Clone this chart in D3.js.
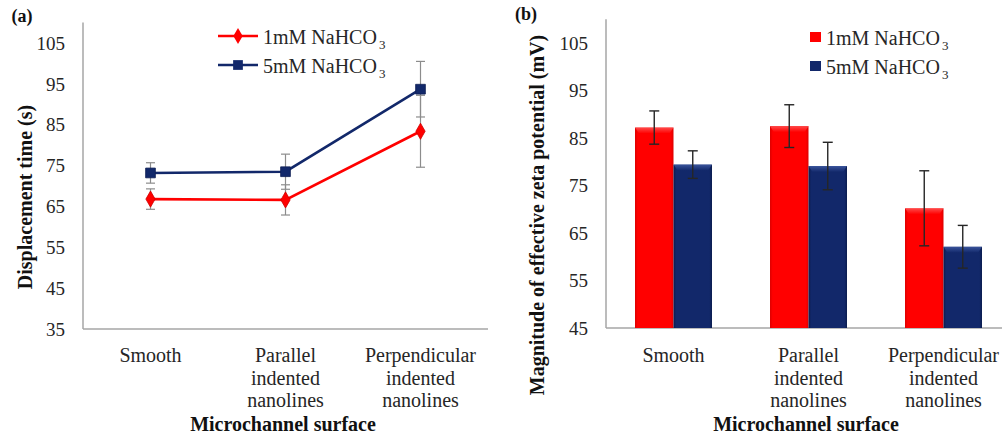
<!DOCTYPE html>
<html>
<head>
<meta charset="utf-8">
<script src="https://cdn.jsdelivr.net/npm/d3@7"></script>
<style>
  body { margin: 0; background: #fff; }
  .tick-label { font-size: 19px; fill: #262626; }
  .cat-label { font-size: 20px; fill: #262626; }
  .title { font-size: 20px; font-weight: bold; fill: #111; }
</style>
</head>
<body>
<svg id="chart" width="1002" height="441"></svg>
<script>
// categories and series
var categories = [
  ["Smooth"],
  ["Parallel", "indented", "nanolines"],
  ["Perpendicular", "indented", "nanolines"]
];
var seriesNames = ["1mM NaHCO", "5mM NaHCO"];

// (a) displacement time (s)
var time1mM = [66.8, 66.6, 83.4];
var time1mMErr = [2.5, 3.7, 8.8];
var time5mM = [73.2, 73.5, 93.7];
var time5mMErr = [2.5, 4.3, 6.8];
var ticksA = [35, 45, 55, 65, 75, 85, 95, 105];

// (b) effective zeta potential (mV)
var zeta1mM = [87.2, 87.5, 70.2];
var zeta1mMErr = [3.5, 4.5, 7.9];
var zeta5mM = [79.4, 79.1, 62.1];
var zeta5mMErr = [2.9, 5.0, 4.5];
var ticksB = [45, 55, 65, 75, 85, 95, 105];

var red = "#ff0000", navy = "#12286a";
var FONT = "'Liberation Serif', 'Times New Roman', serif";
var svg = d3.select("#chart").style("font-family", FONT);
var catKeys = categories.map(function (c) { return c[0]; });

// gradients for the bevelled bars
var defs = svg.append("defs");
function sideGrad(id, edge, mid) {
  var g = defs.append("linearGradient").attr("id", id).attr("x1", 0).attr("x2", 1).attr("y1", 0).attr("y2", 0);
  g.append("stop").attr("offset", "0%").attr("stop-color", edge);
  g.append("stop").attr("offset", "7%").attr("stop-color", mid);
  g.append("stop").attr("offset", "93%").attr("stop-color", mid);
  g.append("stop").attr("offset", "100%").attr("stop-color", edge);
}
sideGrad("gRed", "#dd0000", red);
sideGrad("gNavy", "#0b1c4e", navy);
function topGrad(id, light, mid) {
  var g = defs.append("linearGradient").attr("id", id).attr("x1", 0).attr("x2", 0).attr("y1", 0).attr("y2", 1);
  g.append("stop").attr("offset", "0%").attr("stop-color", light);
  g.append("stop").attr("offset", "100%").attr("stop-color", mid);
}
topGrad("tRed", "#ff6a6a", red);
topGrad("tNavy", "#4a66b0", navy);

function drawAxes(x, y, ticks, xEnd, xAxisY) {
  var g = svg.append("g");
  g.append("line").attr("x1", x.range()[0]).attr("x2", xEnd)
    .attr("y1", xAxisY).attr("y2", xAxisY).attr("stroke", "#a6a6a6").attr("stroke-width", 1.5);
  g.append("line").attr("x1", x.range()[0]).attr("x2", x.range()[0])
    .attr("y1", y.range()[1]).attr("y2", xAxisY).attr("stroke", "#a6a6a6").attr("stroke-width", 1.5);
  g.selectAll(".tick-label").data(ticks).enter().append("text")
    .attr("class", "tick-label")
    .attr("x", x.range()[0] - 18)
    .attr("y", function (d) { return y(d); })
    .attr("dy", "0.35em")
    .attr("text-anchor", "end")
    .text(function (d) { return d; });
  var cg = g.selectAll(".cat").data(categories).enter().append("text")
    .attr("class", "cat-label")
    .attr("text-anchor", "middle")
    .attr("y", 362);
  cg.selectAll("tspan").data(function (d) { return d; }).enter().append("tspan")
    .attr("x", function () { return x(this.parentNode.__data__[0]) + x.bandwidth() / 2; })
    .attr("dy", function (d, i) { return i === 0 ? 0 : 22.5; })
    .text(function (d) { return d; });
}

function legendText(g, x, y, name) {
  var t = g.append("text").attr("class", "cat-label").attr("x", x).attr("y", y);
  t.append("tspan").text(name);
  t.append("tspan").attr("dy", 5).attr("dx", 2).style("font-size", "13px").text("3");
}
function title(x, y, txt, rot) {
  var t = svg.append("text").attr("class", "title").attr("text-anchor", "middle");
  if (rot) t.attr("transform", "translate(" + x + "," + y + ")rotate(-90)");
  else t.attr("x", x).attr("y", y);
  return t.text(txt);
}

// ---------- (a) line chart ----------
var xa = d3.scaleBand().domain(catKeys).range([83, 488]);
var ya = d3.scaleLinear().domain([35, 110]).range([329, 22.6]);
drawAxes(xa, ya, ticksA, 488, 329);
title(22, 22, "(a)").style("font-size", "18px");
title(32, 197, "Displacement time (s)", true);
title(283, 431, "Microchannel surface");

var cx = function (i) { return xa(catKeys[i]) + xa.bandwidth() / 2; };
var seriesA = [
  {vals: time1mM, err: time1mMErr, color: red, shape: d3.symbolDiamond, size: 75},
  {vals: time5mM, err: time5mMErr, color: navy, shape: d3.symbolSquare, size: 95}
];
var line = d3.line().x(function (d, i) { return cx(i); }).y(function (d) { return ya(d); });

// error bars sit behind the lines
seriesA.forEach(function (s) {
  var eg = svg.append("g").attr("stroke", "#8c8c8c").attr("stroke-width", 1.2);
  s.vals.forEach(function (v, i) {
    eg.append("line").attr("x1", cx(i)).attr("x2", cx(i)).attr("y1", ya(v + s.err[i])).attr("y2", ya(v - s.err[i]));
    [v + s.err[i], v - s.err[i]].forEach(function (e) {
      eg.append("line").attr("x1", cx(i) - 4.5).attr("x2", cx(i) + 4.5).attr("y1", ya(e)).attr("y2", ya(e));
    });
  });
});
seriesA.forEach(function (s) {
  svg.append("path").datum(s.vals).attr("d", line).attr("fill", "none")
    .attr("stroke", s.color).attr("stroke-width", 2.6);
  svg.selectAll(null).data(s.vals).enter().append("path")
    .attr("d", d3.symbol().type(s.shape).size(s.size))
    .attr("transform", function (d, i) { return "translate(" + cx(i) + "," + ya(d) + ")"; })
    .attr("fill", s.color).attr("stroke", d3.color(s.color).darker(0.6)).attr("stroke-width", 0.8);
});

var lga = svg.append("g");
seriesA.forEach(function (s, i) {
  var ly = 36 + i * 29;
  lga.append("line").attr("x1", 218).attr("x2", 258).attr("y1", ly).attr("y2", ly)
    .attr("stroke", s.color).attr("stroke-width", 2.6);
  lga.append("path").attr("d", d3.symbol().type(s.shape).size(s.size))
    .attr("transform", "translate(238," + ly + ")").attr("fill", s.color);
  legendText(lga, 263, ly + 8, seriesNames[i]);
});

// ---------- (b) bar chart ----------
var xb = d3.scaleBand().domain(catKeys).range([606, 1011]);
var yb = d3.scaleLinear().domain([45, 110]).range([328, 19.25]);
var xs = d3.scaleBand().domain([0, 1]).range([0, 77]);
drawAxes(xb, yb, ticksB, 1002, 328);
title(526, 20, "(b)").style("font-size", "18px");
title(544, 215, "Magnitude of effective zeta potential (mV)", true);
title(806, 431, "Microchannel surface");

var seriesB = [
  {vals: zeta1mM, err: zeta1mMErr, fill: "url(#gRed)", top: "url(#tRed)", color: red},
  {vals: zeta5mM, err: zeta5mMErr, fill: "url(#gNavy)", top: "url(#tNavy)", color: navy}
];
seriesB.forEach(function (s, k) {
  s.vals.forEach(function (v, i) {
    var x0 = xb(catKeys[i]) + (xb.bandwidth() - 77) / 2 + xs(k);
    var w = xs.bandwidth(), top = yb(v), base = yb(45);
    svg.append("rect").attr("x", x0).attr("y", top).attr("width", w).attr("height", base - top)
      .attr("fill", s.fill);
    svg.append("path")
      .attr("d", "M" + x0 + "," + top + "H" + (x0 + w) + "L" + (x0 + w - 4) + "," + (top + 6) +
        "H" + (x0 + 4) + "Z")
      .attr("fill", s.top).attr("opacity", 0.7);
    var ex = x0 + w / 2;
    var eg = svg.append("g").attr("stroke", "#262626").attr("stroke-width", 1.4);
    eg.append("line").attr("x1", ex).attr("x2", ex).attr("y1", yb(v + s.err[i])).attr("y2", yb(v - s.err[i]));
    [v + s.err[i], v - s.err[i]].forEach(function (e) {
      eg.append("line").attr("x1", ex - 5).attr("x2", ex + 5).attr("y1", yb(e)).attr("y2", yb(e));
    });
  });
});

var lgb = svg.append("g");
seriesB.forEach(function (s, i) {
  var ly = 32 + i * 29;
  lgb.append("rect").attr("x", 810).attr("y", ly).attr("width", 11).attr("height", 10).attr("fill", s.color);
  legendText(lgb, 826, ly + 13, seriesNames[i]);
});
</script>
</body>
</html>
